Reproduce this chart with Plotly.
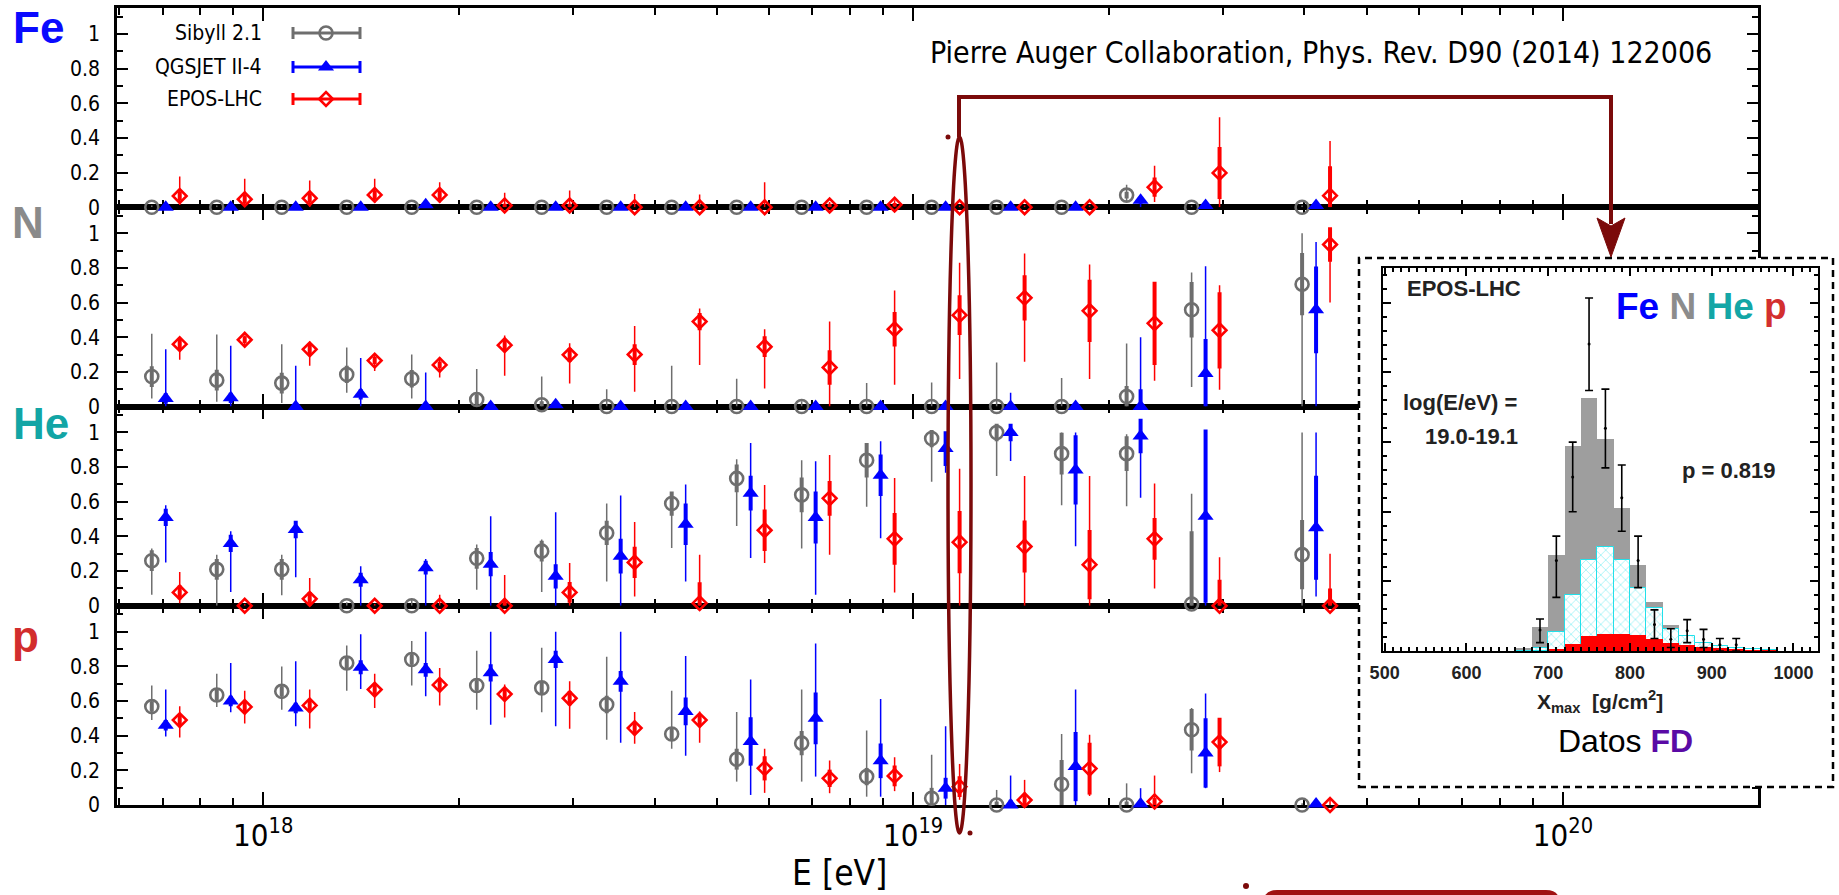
import math
import plotly.graph_objects as go

# ---------------- data ----------------
lgE = [17.85, 17.95, 18.05, 18.15, 18.25, 18.35, 18.45, 18.55, 18.65, 18.75,
       18.85, 18.95, 19.05, 19.15, 19.25, 19.35, 19.45, 19.62]
model_names = ["Sibyll 2.1", "QGSJET II-4", "EPOS-LHC"]
species = ["Fe", "N", "He", "p"]

# Fe fractions
sib_fe    = [0, 0, 0, 0, 0, 0, 0, 0, 0, 0, 0, 0, 0, 0, 0, 0.07, 0, 0]
sib_fe_lo = [0, 0, 0, 0, 0, 0, 0, 0, 0, 0, 0, 0, 0, 0, 0, 0.03, 0, 0]
sib_fe_hi = [0.01, 0.01, 0.01, 0.01, 0.01, 0.01, 0.01, 0.01, 0.01, 0.01, 0.01, 0.01, 0.01, 0.01, 0.01, 0.13, 0.01, 0.01]
sib_fe_st = [0, 0, 0, 0, 0, 0, 0, 0, 0, 0, 0, 0, 0, 0, 0, 0.02, 0, 0]
qgs_fe    = [0, 0, 0, 0, 0.015, 0, 0, 0, 0, 0, 0, 0, 0, 0, 0, 0.04, 0.01, 0.01]
qgs_fe_lo = [0, 0, 0, 0, 0, 0, 0, 0, 0, 0, 0, 0, 0, 0, 0, 0, 0, 0]
qgs_fe_hi = [0.01, 0.01, 0.01, 0.01, 0.03, 0.01, 0.01, 0.01, 0.01, 0.01, 0.01, 0.01, 0.01, 0.01, 0.01, 0.06, 0.02, 0.02]
qgs_fe_st = [0, 0, 0, 0, 0, 0, 0, 0, 0, 0, 0, 0, 0, 0, 0, 0.02, 0, 0]
epo_fe    = [0.065, 0.046, 0.052, 0.071, 0.071, 0.01, 0.01, 0.0, 0.0, 0.0, 0.01, 0.015, 0.0, 0.0, 0.0, 0.116, 0.198, 0.067]
epo_fe_lo = [0.013, 0.0, 0.0, 0.025, 0.025, 0, 0, 0, 0, 0, 0, 0, 0, 0, 0, 0.03, 0, 0]
epo_fe_hi = [0.177, 0.164, 0.154, 0.164, 0.145, 0.083, 0.096, 0.077, 0.073, 0.145, 0.03, 0.04, 0.01, 0.01, 0.01, 0.24, 0.52, 0.383]
epo_fe_st = [0.025, 0.025, 0.025, 0.025, 0.025, 0.01, 0.01, 0, 0, 0, 0.01, 0.01, 0, 0, 0, 0.055, 0.15, 0.17]

# N fractions
sib_n    = [0.173, 0.152, 0.135, 0.185, 0.16, 0.04, 0.01, 0.0, 0.0, 0.0, 0.0, 0.0, 0.0, 0.0, 0.0, 0.058, 0.558, 0.706]
sib_n_lo = [0.046, 0.027, 0.02, 0.08, 0.046, 0, 0, 0, 0, 0, 0, 0, 0, 0, 0, 0, 0.113, 0]
sib_n_hi = [0.42, 0.415, 0.36, 0.34, 0.30, 0.217, 0.173, 0.10, 0.235, 0.16, 0.03, 0.135, 0.138, 0.254, 0.165, 0.363, 0.773, 1.0]
sib_n_st = [0.06, 0.06, 0.06, 0.05, 0.05, 0.03, 0.02, 0, 0, 0, 0, 0, 0, 0, 0, 0.06, 0.16, 0.18]
qgs_n    = [0.046, 0.05, 0.0, 0.07, 0.0, 0.0, 0.01, 0.0, 0.0, 0.0, 0.0, 0.0, 0.0, 0.0, 0.0, 0.0, 0.19, 0.558]
qgs_n_lo = [0, 0, 0, 0, 0, 0, 0, 0, 0, 0, 0, 0, 0, 0, 0, 0, 0, 0]
qgs_n_hi = [0.33, 0.35, 0.235, 0.28, 0.196, 0.02, 0.02, 0.01, 0.01, 0.01, 0.01, 0.01, 0.01, 0.08, 0.01, 0.40, 0.81, 0.95]
qgs_n_st = [0.03, 0.03, 0.02, 0.03, 0.02, 0, 0, 0, 0, 0, 0, 0, 0, 0, 0, 0.1, 0.2, 0.25]
epo_n    = [0.36, 0.385, 0.33, 0.265, 0.24, 0.354, 0.298, 0.30, 0.49, 0.345, 0.225, 0.446, 0.527, 0.627, 0.552, 0.48, 0.44, 0.935]
epo_n_lo = [0.27, 0.35, 0.235, 0.205, 0.167, 0.177, 0.133, 0.085, 0.24, 0.104, 0.0, 0.125, 0.158, 0.258, 0.158, 0.148, 0.096, 0.6]
epo_n_hi = [0.40, 0.41, 0.375, 0.296, 0.283, 0.41, 0.365, 0.465, 0.565, 0.446, 0.49, 0.67, 0.83, 0.883, 0.82, 0.706, 0.70, 1.0]
epo_n_st = [0.03, 0.02, 0.03, 0.02, 0.02, 0.03, 0.04, 0.06, 0.05, 0.06, 0.1, 0.1, 0.115, 0.13, 0.18, 0.24, 0.22, 0.1]

# He fractions
sib_he    = [0.26, 0.21, 0.21, 0.0, 0.0, 0.274, 0.315, 0.42, 0.59, 0.735, 0.64, 0.84, 0.965, 1.0, 0.878, 0.878, 0.01, 0.295]
sib_he_lo = [0.064, 0.0, 0.06, 0, 0, 0.093, 0.08, 0.14, 0.334, 0.46, 0.33, 0.571, 0.716, 0.749, 0.58, 0.575, 0.0, 0.0]
sib_he_hi = [0.33, 0.295, 0.295, 0.02, 0.04, 0.353, 0.382, 0.59, 0.65, 0.845, 0.84, 0.93, 1.0, 1.0, 1.0, 0.99, 0.647, 1.0]
sib_he_st = [0.06, 0.06, 0.06, 0, 0, 0.06, 0.06, 0.07, 0.07, 0.08, 0.1, 0.1, 0.05, 0.05, 0.12, 0.1, 0.42, 0.2]
qgs_he    = [0.51, 0.36, 0.44, 0.15, 0.22, 0.24, 0.17, 0.286, 0.47, 0.65, 0.51, 0.753, 0.907, 1.0, 0.784, 0.98, 0.517, 0.45]
qgs_he_lo = [0.25, 0.08, 0.164, 0.0, 0.0, 0.0, 0.0, 0.0, 0.14, 0.276, 0.064, 0.39, 0.768, 0.836, 0.344, 0.624, 0.0, 0.054]
qgs_he_hi = [0.58, 0.43, 0.48, 0.228, 0.27, 0.517, 0.54, 0.637, 0.70, 0.94, 0.834, 0.95, 1.0, 1.0, 1.0, 1.0, 1.0, 1.0]
qgs_he_st = [0.05, 0.05, 0.05, 0.04, 0.04, 0.07, 0.07, 0.1, 0.12, 0.1, 0.15, 0.12, 0.1, 0.05, 0.2, 0.1, 0.5, 0.3]
epo_he    = [0.077, 0.0, 0.04, 0.0, 0.0, 0.0, 0.077, 0.25, 0.015, 0.436, 0.62, 0.386, 0.367, 0.342, 0.237, 0.386, 0.0, 0.0]
epo_he_lo = [0.015, 0.0, 0.0, 0, 0, 0, 0, 0.054, 0.0, 0.247, 0.295, 0.077, 0.0, 0.0, 0.0, 0.1, 0, 0]
epo_he_hi = [0.195, 0.01, 0.16, 0.01, 0.064, 0.178, 0.247, 0.483, 0.295, 0.697, 0.87, 0.737, 0.79, 0.749, 0.749, 0.705, 0.28, 0.30]
epo_he_st = [0.04, 0, 0.04, 0, 0, 0.03, 0.06, 0.09, 0.12, 0.12, 0.1, 0.15, 0.18, 0.15, 0.2, 0.12, 0.15, 0.1]

# p fractions
sib_p    = [0.568, 0.635, 0.656, 0.82, 0.84, 0.69, 0.676, 0.58, 0.41, 0.264, 0.357, 0.164, 0.039, 0.0, 0.12, 0.0, 0.434, 0.0]
sib_p_lo = [0.49, 0.566, 0.55, 0.66, 0.69, 0.55, 0.535, 0.376, 0.324, 0.135, 0.135, 0.048, 0.0, 0.0, 0.0, 0.0, 0.183, 0.0]
sib_p_hi = [0.69, 0.757, 0.80, 0.92, 0.946, 0.89, 0.907, 0.855, 0.66, 0.537, 0.666, 0.43, 0.29, 0.087, 0.41, 0.125, 0.56, 0.01]
sib_p_st = [0.03, 0.03, 0.03, 0.03, 0.03, 0.03, 0.04, 0.05, 0.04, 0.06, 0.07, 0.05, 0.06, 0.02, 0.14, 0.02, 0.12, 0.0]
qgs_p    = [0.46, 0.60, 0.56, 0.795, 0.78, 0.763, 0.84, 0.714, 0.54, 0.367, 0.50, 0.255, 0.097, 0.0, 0.222, 0.006, 0.30, 0.006]
qgs_p_lo = [0.396, 0.535, 0.454, 0.67, 0.627, 0.463, 0.454, 0.36, 0.284, 0.058, 0.164, 0.048, 0.0, 0.0, 0.0, 0.0, 0.097, 0.0]
qgs_p_hi = [0.666, 0.82, 0.83, 0.985, 1.0, 1.0, 1.0, 1.0, 0.86, 0.724, 0.932, 0.612, 0.454, 0.17, 0.666, 0.097, 0.643, 0.02]
qgs_p_st = [0.03, 0.03, 0.03, 0.04, 0.04, 0.05, 0.05, 0.06, 0.08, 0.14, 0.15, 0.1, 0.06, 0.03, 0.2, 0.02, 0.2, 0.0]
epo_p    = [0.49, 0.566, 0.575, 0.666, 0.693, 0.64, 0.616, 0.444, 0.49, 0.212, 0.154, 0.168, 0.106, 0.029, 0.21, 0.02, 0.363, 0.0]
epo_p_lo = [0.39, 0.47, 0.442, 0.56, 0.575, 0.505, 0.44, 0.353, 0.36, 0.07, 0.068, 0.08, 0.03, 0.0, 0.052, 0.0, 0.19, 0.0]
epo_p_hi = [0.57, 0.66, 0.666, 0.758, 0.79, 0.695, 0.714, 0.537, 0.54, 0.324, 0.257, 0.276, 0.237, 0.145, 0.405, 0.17, 0.50, 0.04]
epo_p_st = [0.03, 0.03, 0.03, 0.03, 0.03, 0.03, 0.04, 0.03, 0.03, 0.07, 0.05, 0.06, 0.06, 0.03, 0.15, 0.02, 0.14, 0.0]

# Inset: Xmax distribution, log(E/eV)=19.0-19.1, EPOS-LHC
hist_x       = [670, 690, 710, 730, 750, 770, 790, 810, 830, 850, 870, 890, 910, 930, 950, 970]
hist_total   = [0.4, 3.5, 13.8, 29.5, 36.3, 30.5, 20.5, 12.4, 7.0, 3.8, 2.2, 1.2, 0.8, 0.4, 0.25, 0.15]
hist_he_p    = [0.0, 0.5, 2.7, 8.1, 13.0, 14.9, 13.0, 9.1, 6.2, 3.1, 2.1, 1.2, 0.7, 0.4, 0.25, 0.15]
hist_p       = [0.0, 0.0, 0.15, 1.0, 2.1, 2.5, 2.5, 2.3, 1.7, 1.2, 0.8, 0.6, 0.4, 0.25, 0.1, 0.05]
fd_x         = [690, 710, 730, 750, 770, 790, 810, 830, 850, 870, 890, 910, 930]
fd_y         = [3.0, 13.0, 25.0, 44.1, 32.0, 22.0, 13.0, 3.8, 1.7, 2.9, 1.7, 0.9, 0.9]
fd_err_up    = [1.6, 3.5, 5.0, 6.6, 5.6, 4.7, 3.5, 2.1, 1.5, 1.6, 1.4, 0.9, 0.9]
fd_err_dn    = [1.8, 5.3, 5.0, 6.7, 5.7, 4.8, 3.9, 2.0, 1.2, 1.7, 1.2, 0.9, 0.9]

# ---------------- geometry helpers (pixel -> paper) ----------------
W, H = 1839, 895
L, RGT, TOP, BOT = 117, 1835, 8, 805
PW, PH = RGT - L, BOT - TOP


def px(x):
    return (x - L) / PW


def py(y):
    return (BOT - y) / PH


XR = [17.775, 20.3]
YR = [0, 1.15]
NARROW = "Liberation Sans Narrow, Arial Narrow, DejaVu Sans Condensed, Liberation Sans, Arial, sans-serif"
SANS = "Liberation Sans, Arial, Helvetica, sans-serif"
DARKRED = "#7b0a0a"

# panel order: p -> x/y, He -> x2, N -> x3, Fe -> x4 (top panel drawn last)
panel_axes = {"p": "", "He": "2", "N": "3", "Fe": "4"}
panel_row = {"Fe": 0, "N": 1, "He": 2, "p": 3}
main_right = px(1758)

series = {
    "Fe": [(sib_fe, sib_fe_lo, sib_fe_hi, sib_fe_st), (qgs_fe, qgs_fe_lo, qgs_fe_hi, qgs_fe_st), (epo_fe, epo_fe_lo, epo_fe_hi, epo_fe_st)],
    "N": [(sib_n, sib_n_lo, sib_n_hi, sib_n_st), (qgs_n, qgs_n_lo, qgs_n_hi, qgs_n_st), (epo_n, epo_n_lo, epo_n_hi, epo_n_st)],
    "He": [(sib_he, sib_he_lo, sib_he_hi, sib_he_st), (qgs_he, qgs_he_lo, qgs_he_hi, qgs_he_st), (epo_he, epo_he_lo, epo_he_hi, epo_he_st)],
    "p": [(sib_p, sib_p_lo, sib_p_hi, sib_p_st), (qgs_p, qgs_p_lo, qgs_p_hi, qgs_p_st), (epo_p, epo_p_lo, epo_p_hi, epo_p_st)],
}
styles = [
    dict(color="#6e6e6e", symbol="circle-open", size=13, lw=2.6, offset=-0.0215),
    dict(color="#0000ff", symbol="triangle-up", size=14, lw=0, offset=0.0),
    dict(color="#ff0000", symbol="diamond-open", size=10.5, lw=2.6, offset=0.0215),
]

fig = go.Figure()

for sp in species:
    a = panel_axes[sp]
    for (val, lo, hi, st), s in zip(series[sp], styles):
        xs = [10.0 ** (e + s["offset"]) for e in lgE]
        fig.add_trace(go.Scatter(
            x=xs, y=val, mode="markers", marker=dict(size=1, opacity=0),
            error_y=dict(type="data", symmetric=False, array=st,
                         arrayminus=[min(t, v) for t, v in zip(st, val)],
                         color=s["color"], thickness=4, width=0),
            xaxis="x" + a, yaxis="y" + a, cliponaxis=False, showlegend=False, hoverinfo="skip"))
        fig.add_trace(go.Scatter(
            x=xs, y=val, mode="markers",
            marker=dict(symbol=s["symbol"], size=s["size"], color=s["color"],
                        line=dict(width=s["lw"], color=s["color"])),
            error_y=dict(type="data", symmetric=False,
                         array=[max(0, h - v) for h, v in zip(hi, val)],
                         arrayminus=[max(0, v - l) for l, v in zip(lo, val)],
                         color=s["color"], thickness=1.5, width=0),
            xaxis="x" + a, yaxis="y" + a, cliponaxis=False, showlegend=False, hoverinfo="skip"))

# legend key markers (inside the Fe panel)
fe_bottom_px = TOP + 0.25 * PH
leg_rows_px = [33, 67, 99]
leg_x_px = 326
for s, ypx in zip(styles, leg_rows_px):
    xlog = XR[0] + (leg_x_px - L) / (1758 - L) * (XR[1] - XR[0])
    yv = (fe_bottom_px - ypx) / (0.25 * PH) * (YR[1] - YR[0])
    fig.add_trace(go.Scatter(
        x=[10.0 ** xlog], y=[yv], mode="markers",
        marker=dict(symbol=s["symbol"], size=s["size"], color=s["color"],
                    line=dict(width=s["lw"], color=s["color"])),
        xaxis="x4", yaxis="y4", cliponaxis=False, showlegend=False, hoverinfo="skip"))

# white cover behind the inset
fig.add_trace(go.Scatter(x=[0, 1, 1, 0, 0], y=[0, 0, 1, 1, 0], fill="toself", fillcolor="white",
                         mode="lines", line=dict(width=0), xaxis="x5", yaxis="y5",
                         showlegend=False, hoverinfo="skip"))

# inset histogram
fig.add_trace(go.Bar(x=hist_x, y=hist_total, width=20, marker=dict(color="#9e9e9e", line=dict(width=0)),
                     xaxis="x6", yaxis="y6", showlegend=False, hoverinfo="skip"))
fig.add_trace(go.Bar(x=hist_x, y=hist_he_p, width=20,
                     marker=dict(color="white", line=dict(width=1, color="#22e0ea"),
                                 pattern=dict(shape="x", fgcolor="#22e0ea", bgcolor="white", size=7, solidity=0.2)),
                     xaxis="x6", yaxis="y6", showlegend=False, hoverinfo="skip"))
fig.add_trace(go.Bar(x=hist_x, y=hist_p, width=20, marker=dict(color="#ff0000", line=dict(width=0)),
                     xaxis="x6", yaxis="y6", showlegend=False, hoverinfo="skip"))
fig.add_trace(go.Scatter(x=fd_x, y=fd_y, mode="markers", marker=dict(color="black", size=3),
                         error_y=dict(type="data", symmetric=False, array=fd_err_up, arrayminus=fd_err_dn,
                                      color="black", thickness=1.6, width=4),
                         xaxis="x6", yaxis="y6", showlegend=False, hoverinfo="skip"))

# ---------------- axes ----------------
minor_vals = [float(k) * 10.0 ** d for d in (17, 18, 19, 20) for k in range(2, 10)
              if XR[0] < d + math.log10(k) < XR[1]]
layout_axes = {}
for sp in species:
    a = panel_axes[sp]
    r = panel_row[sp]
    ydom = [1 - (r + 1) / 4, 1 - r / 4]
    bottom = sp == "p"
    layout_axes["xaxis" + a] = dict(
        type="log", range=XR, domain=[0, main_right], anchor="y" + a,
        showline=True, linecolor="black", linewidth=2.6, mirror="allticks",
        ticks="inside", ticklen=13, tickwidth=2.2, tickcolor="black",
        tickvals=[1e18, 1e19, 1e20], ticktext=["10<sup>18</sup>", "10<sup>19</sup>", "10<sup>20</sup>"],
        showticklabels=bottom, ticklabelstandoff=1,
        tickfont=dict(family=NARROW, size=31, color="black"),
        minor=dict(tickvals=minor_vals, ticks="inside", ticklen=7, tickwidth=2.2, tickcolor="black", showgrid=False),
        showgrid=False, zeroline=False, layer="below traces", fixedrange=True)
    layout_axes["yaxis" + a] = dict(
        range=YR, domain=ydom, anchor="x" + a,
        showline=True, linecolor="black", linewidth=2.6, mirror="allticks",
        ticks="inside", ticklen=11, tickwidth=2.2, tickcolor="black",
        tickvals=[0, 0.2, 0.4, 0.6, 0.8, 1], ticktext=["0", "0.2", "0.4", "0.6", "0.8", "1"],
        ticklabelstandoff=10, tickfont=dict(family=NARROW, size=21, color="black"),
        minor=dict(dtick=0.1, tick0=0, ticks="inside", ticklen=6, tickwidth=2, tickcolor="black", showgrid=False),
        showgrid=False, zeroline=False, layer="below traces", fixedrange=True)

layout_axes["xaxis5"] = dict(domain=[px(1359), px(1833)], anchor="y5", range=[0, 1], visible=False, fixedrange=True)
layout_axes["yaxis5"] = dict(domain=[py(787), py(258)], anchor="x5", range=[0, 1], visible=False, fixedrange=True)

layout_axes["xaxis6"] = dict(
    domain=[px(1383), px(1818)], anchor="y6", range=[498, 1030],
    showline=True, linecolor="black", linewidth=2.4, mirror="allticks",
    ticks="inside", ticklen=8, tickwidth=2, tickcolor="black",
    tickvals=[500, 600, 700, 800, 900, 1000], ticklabelstandoff=4,
    tickfont=dict(family=SANS, size=18, color="#222222", weight="bold"),
    minor=dict(dtick=10, tick0=500, ticks="inside", ticklen=4, tickwidth=1.5, tickcolor="black", showgrid=False),
    showgrid=False, zeroline=False, fixedrange=True)
layout_axes["yaxis6"] = dict(
    domain=[py(651), py(268)], anchor="x6", range=[0, 55],
    showline=True, linecolor="black", linewidth=2.4, mirror="allticks",
    ticks="inside", ticklen=8, tickwidth=2, tickcolor="black", dtick=10, tick0=0,
    showticklabels=False,
    minor=dict(dtick=2, tick0=0, ticks="inside", ticklen=4, tickwidth=1.5, tickcolor="black", showgrid=False),
    showgrid=False, zeroline=False, fixedrange=True)

# ---------------- annotations ----------------
ann = []
label_pos = {"Fe": (38, 27, "#0a0aff"), "N": (28, 222, "#8a8a8a"), "He": (41, 423, "#12a5a5"), "p": (25, 636, "#d22d2d")}
for sp in species:
    x, y, c = label_pos[sp]
    ann.append(dict(x=px(x), y=py(y), xref="paper", yref="paper", text="<b>%s</b>" % sp, showarrow=False,
                    xanchor="center", yanchor="middle", font=dict(family=SANS, size=44, color=c)))

for name, ypx in zip(model_names, leg_rows_px):
    ann.append(dict(x=px(264), y=py(ypx), xref="paper", yref="paper", text=name, showarrow=False,
                    xanchor="right", yanchor="middle", font=dict(family=NARROW, size=21, color="black")))

ann.append(dict(x=px(1714), y=py(52), xref="paper", yref="paper",
                text="Pierre Auger Collaboration, Phys. Rev. D90 (2014) 122006", showarrow=False,
                xanchor="right", yanchor="middle", font=dict(family=NARROW, size=30, color="black")))
ann.append(dict(x=px(839), y=py(894), xref="paper", yref="paper", text="E [eV]", showarrow=False,
                xanchor="center", yanchor="bottom", borderpad=0,
                font=dict(family=NARROW, size=35, color="black")))

ann.append(dict(x=px(1405), y=py(288), xref="paper", yref="paper", text="<b>EPOS-LHC</b>", showarrow=False,
                xanchor="left", yanchor="middle", font=dict(family=SANS, size=22, color="#222222")))
ann.append(dict(x=px(1614), y=py(306), xref="paper", yref="paper",
                text="<b><span style='color:#0000ff'>Fe</span> <span style='color:#8c8c8c'>N</span> "
                     "<span style='color:#13a6a6'>He</span> <span style='color:#d32f2f'>p</span></b>",
                showarrow=False, xanchor="left", yanchor="middle", font=dict(family=SANS, size=37)))
ann.append(dict(x=px(1519), y=py(402), xref="paper", yref="paper", text="<b>log(E/eV) =</b>", showarrow=False,
                xanchor="right", yanchor="middle", font=dict(family=SANS, size=22, color="#222222")))
ann.append(dict(x=px(1520), y=py(436), xref="paper", yref="paper", text="<b>19.0-19.1</b>", showarrow=False,
                xanchor="right", yanchor="middle", font=dict(family=SANS, size=22, color="#222222")))
ann.append(dict(x=px(1680), y=py(470), xref="paper", yref="paper", text="<b>p = 0.819</b>", showarrow=False,
                xanchor="left", yanchor="middle", font=dict(family=SANS, size=22, color="#222222")))
ann.append(dict(x=px(1600), y=py(701), xref="paper", yref="paper",
                text="<b>X<sub>max</sub>  [g/cm<sup>2</sup>]</b>", showarrow=False,
                xanchor="center", yanchor="middle", font=dict(family=SANS, size=21, color="#222222")))
ann.append(dict(x=px(1625), y=py(741), xref="paper", yref="paper",
                text="Datos <b><span style='color:#5a0aa5'>FD</span></b>", showarrow=False,
                xanchor="center", yanchor="middle", font=dict(family=SANS, size=32, color="black")))

# ---------------- shapes ----------------
shapes = []
for s, ypx in zip(styles, leg_rows_px):
    shapes.append(dict(type="line", xref="paper", yref="paper", x0=px(293), x1=px(360), y0=py(ypx), y1=py(ypx),
                       line=dict(color=s["color"], width=3)))
    for xe in (293, 360):
        shapes.append(dict(type="line", xref="paper", yref="paper", x0=px(xe), x1=px(xe),
                           y0=py(ypx - 6), y1=py(ypx + 6), line=dict(color=s["color"], width=3)))

shapes.append(dict(type="rect", xref="paper", yref="paper", x0=px(1359), x1=px(1833), y0=py(787), y1=py(258),
                   line=dict(color="black", width=2.5, dash="7px,5px"), fillcolor="rgba(0,0,0,0)"))

shapes.append(dict(type="circle", xref="paper", yref="paper", x0=px(948), x1=px(971), y0=py(833), y1=py(137),
                   line=dict(color=DARKRED, width=3.5)))
shapes.append(dict(type="path", xref="paper", yref="paper",
                   path="M %f,%f L %f,%f L %f,%f L %f,%f" % (px(959), py(137), px(959), py(97),
                                                             px(1611), py(97), px(1611), py(224)),
                   line=dict(color=DARKRED, width=4)))
shapes.append(dict(type="path", xref="paper", yref="paper",
                   path="M %f,%f L %f,%f L %f,%f L %f,%f Z" % (px(1597), py(218), px(1611), py(226),
                                                               px(1625), py(218), px(1611), py(257)),
                   fillcolor=DARKRED, line=dict(color=DARKRED, width=1)))
for (cx, cy, rr) in [(948, 137, 2.5), (970, 833, 2.5), (1246, 886, 3)]:
    shapes.append(dict(type="circle", xref="paper", yref="paper", x0=px(cx - rr), x1=px(cx + rr),
                       y0=py(cy + rr), y1=py(cy - rr), fillcolor=DARKRED, line=dict(width=0)))
rx0, rx1, ry0, ry1, rad = 1263, 1560, 890, 930, 14
rpath = "M %f,%f L %f,%f Q %f,%f %f,%f L %f,%f Q %f,%f %f,%f L %f,%f Z" % (
    px(rx0), py(ry1), px(rx0), py(ry0 + rad), px(rx0), py(ry0), px(rx0 + rad), py(ry0),
    px(rx1 - rad), py(ry0), px(rx1), py(ry0), px(rx1), py(ry0 + rad), px(rx1), py(ry1))
shapes.append(dict(type="path", xref="paper", yref="paper", path=rpath,
                   fillcolor="#a01212", line=dict(width=0)))

fig.update_layout(
    width=W, height=H, autosize=False,
    margin=dict(l=L, r=W - RGT, t=TOP, b=H - BOT, pad=0),
    paper_bgcolor="white", plot_bgcolor="white",
    barmode="overlay", bargap=0,
    showlegend=False,
    annotations=ann, shapes=shapes,
    **layout_axes,
)

fig.write_html("out.html", config={"displayModeBar": False})
